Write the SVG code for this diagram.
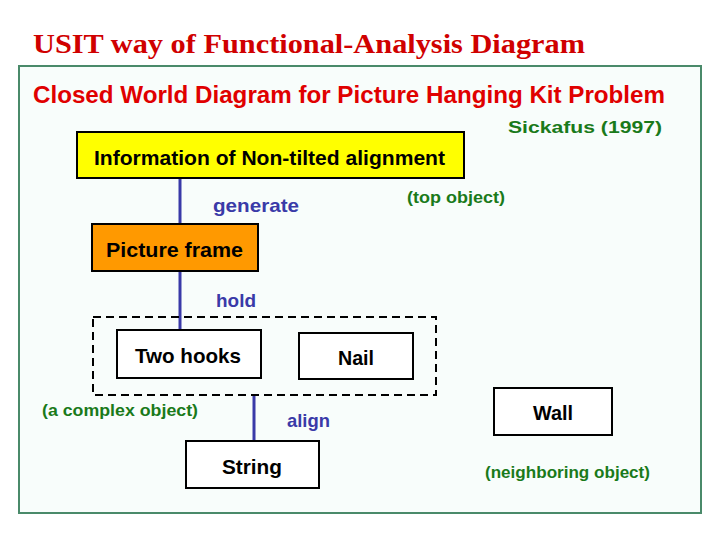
<svg xmlns="http://www.w3.org/2000/svg" width="720" height="540" viewBox="0 0 720 540">
<style>
.node{stroke:#000;stroke-width:2}
.nt{font-family:"Liberation Sans",Arial,sans-serif;font-weight:bold;font-size:21px;fill:#000}
.lbl{font-family:"Liberation Sans",Arial,sans-serif;font-weight:bold;font-size:19px;fill:#3a3aa8}
.note{font-family:"Liberation Sans",Arial,sans-serif;font-weight:bold;font-size:17px;fill:#1a7a1a}
.conn{stroke:#3a3aa8;stroke-width:3;fill:none}
</style>
<rect width="720" height="540" fill="#fff"/>
<text x="33" y="53" font-family="Liberation Serif,'Times New Roman',serif" font-weight="bold" font-size="27" fill="#d00000" textLength="552" lengthAdjust="spacingAndGlyphs">USIT way of Functional-Analysis Diagram</text>
<rect x="19" y="66" width="682" height="447" fill="#f8fdfb" stroke="#4a8a6a" stroke-width="2"/>
<text x="33" y="103" font-family="Liberation Sans,Arial,sans-serif" font-weight="bold" font-size="23" fill="#e00000" textLength="632" lengthAdjust="spacingAndGlyphs">Closed World Diagram for Picture Hanging Kit Problem</text>
<text x="508" y="133" class="note" font-size="20" textLength="154" lengthAdjust="spacingAndGlyphs">Sickafus (1997)</text>
<g id="connectors">
<line class="conn" x1="180" y1="178" x2="180" y2="225"/>
<line class="conn" x1="180" y1="271" x2="180" y2="332"/>
<line class="conn" x1="254" y1="395" x2="254" y2="442"/>
</g>
<g id="complex-object">
<rect x="93" y="317" width="343" height="78" fill="none" stroke="#000" stroke-width="2" stroke-dasharray="8,5"/>
</g>
<g id="info">
<rect class="node" x="77" y="132" width="387" height="46" fill="#ffff00"/>
<text class="nt" x="94" y="165" textLength="351" lengthAdjust="spacingAndGlyphs">Information of Non-tilted alignment</text>
</g>
<g id="frame">
<rect class="node" x="92" y="224" width="166" height="47" fill="#ff9900"/>
<text class="nt" x="106" y="257" textLength="137" lengthAdjust="spacingAndGlyphs">Picture frame</text>
</g>
<g id="hooks">
<rect class="node" x="117" y="330" width="144" height="48" fill="#fff"/>
<text class="nt" x="135" y="363" textLength="106" lengthAdjust="spacingAndGlyphs">Two hooks</text>
</g>
<g id="nail">
<rect class="node" x="299" y="333" width="114" height="46" fill="#fff"/>
<text class="nt" x="338" y="365" textLength="36" lengthAdjust="spacingAndGlyphs">Nail</text>
</g>
<g id="string">
<rect class="node" x="186" y="441" width="133" height="47" fill="#fff"/>
<text class="nt" x="222" y="474" textLength="60" lengthAdjust="spacingAndGlyphs">String</text>
</g>
<g id="wall">
<rect class="node" x="494" y="388" width="118" height="47" fill="#fff"/>
<text class="nt" x="533" y="420" textLength="40" lengthAdjust="spacingAndGlyphs">Wall</text>
</g>
<g id="labels">
<text class="lbl" x="213" y="212" textLength="86" lengthAdjust="spacingAndGlyphs">generate</text>
<text class="lbl" x="216" y="307" textLength="40" lengthAdjust="spacingAndGlyphs">hold</text>
<text class="lbl" x="287" y="427" textLength="43" lengthAdjust="spacingAndGlyphs">align</text>
<text class="note" x="407" y="203" textLength="98" lengthAdjust="spacingAndGlyphs">(top object)</text>
<text class="note" x="42" y="416" textLength="156" lengthAdjust="spacingAndGlyphs">(a complex object)</text>
<text class="note" x="485" y="478" textLength="165" lengthAdjust="spacingAndGlyphs">(neighboring object)</text>
</g>
</svg>
